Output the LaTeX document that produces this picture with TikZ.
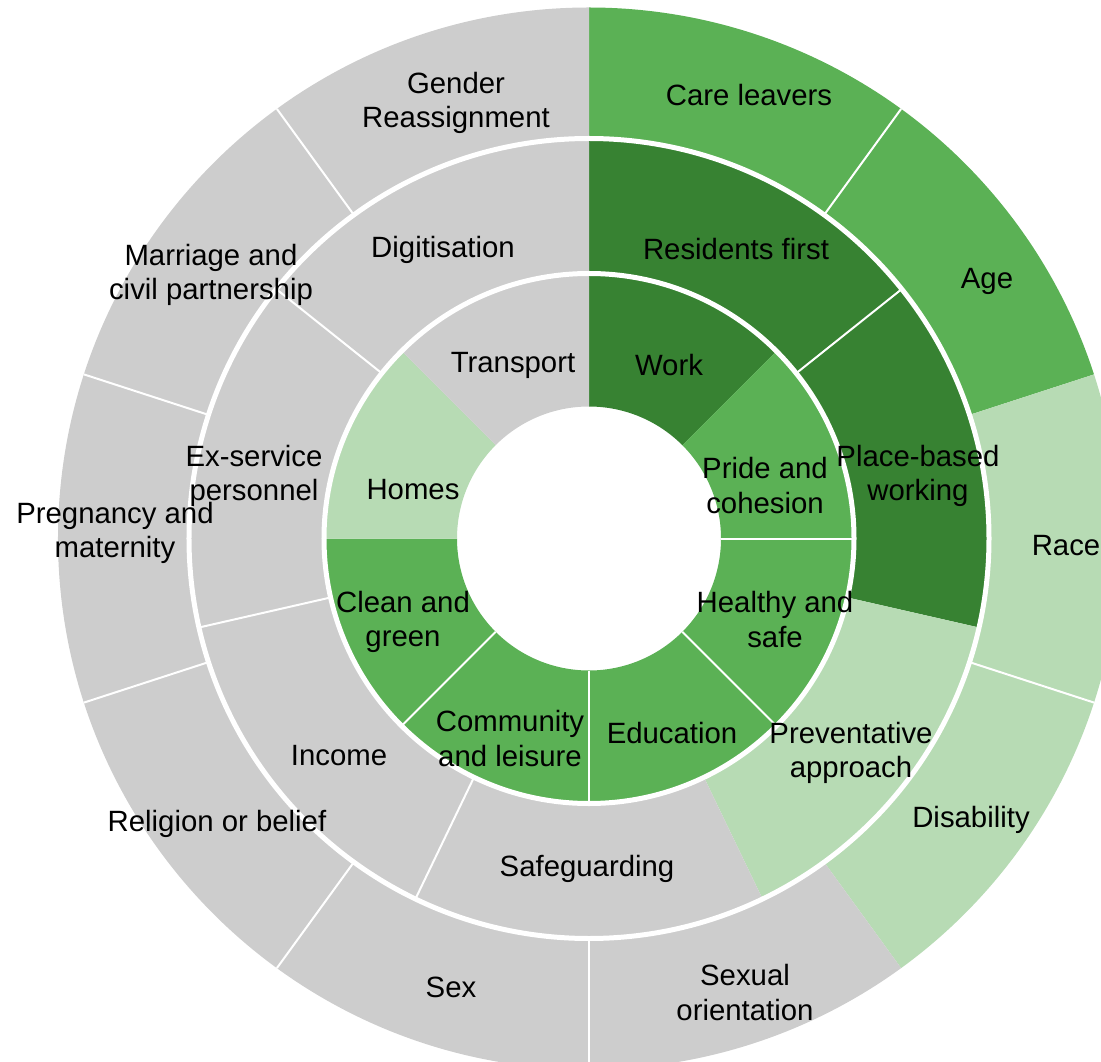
\documentclass[tikz,border=0pt]{standalone}
\usepackage{fontspec}
\setmainfont{Liberation Sans}
\definecolor{segGrey}{HTML}{CDCDCD}
\definecolor{segLight}{HTML}{B7DBB4}
\definecolor{segMid}{HTML}{5BB155}
\definecolor{segDark}{HTML}{378232}
% annular sector: colour, inner r, outer r, start angle, end angle
\newcommand{\ringpart}[5]{%
  \fill[#1] (#4:#2) arc[start angle=#4, end angle=#5, radius=#2]
    -- (#5:#3) arc[start angle=#5, end angle=#4, radius=#3] -- cycle;}

\begin{document}
\begin{tikzpicture}[x=0.02cm, y=0.02cm, every node/.style={align=center}]
    \tikzset{
      seglabel/.style={
        font=\fontsize{16.7}{19.4}\selectfont,
        inner sep=0pt,
        yshift=-0.05cm
      },
      seam/.style={white, line width=0.04cm},
      gap/.style={white, line width=0.1cm}
    }
    \useasboundingbox (-589,-522.5) rectangle (512,538.5);
    \clip (-589,-522.5) rectangle (512,538.5);

    % inner ring
    \foreach \col/\a/\b in {segDark/90/45, segMid/45/0, segMid/0/-45, segMid/-45/-90,
                            segMid/-90/-135, segMid/-135/-180, segLight/180/135, segGrey/135/90}
      {\ringpart{\col}{132}{265}{\a}{\b}}
    % middle ring
    \foreach \col [count=\i from 0, evaluate=\i as \a using 90-\i*360/7,
                   evaluate=\i as \b using 90-(\i+1)*360/7]
        in {segDark, segDark, segLight, segGrey, segGrey, segGrey, segGrey}
      {\ringpart{\col}{265}{400}{\a}{\b}}
    % outer ring
    \foreach \col/\a/\b in {segMid/90/54, segMid/54/18, segLight/18/-18, segLight/-18/-54,
                            segGrey/-54/-90, segGrey/-90/-270}
      {\ringpart{\col}{400}{531}{\a}{\b}}

    % seams between segments of the same colour
    \foreach \a in {0, -45, -90, -135}
      \draw[seam] (\a:132) -- (\a:265);
    \foreach \i [evaluate=\i as \a using 90-\i*360/7] in {1, 4, 5, 6}
      \draw[seam] (\a:265) -- (\a:400);
    \foreach \a in {54, -18, -90, -126, -162, 162, 126}
      \draw[seam] (\a:400) -- (\a:531);
    \draw[gap] (0,0) circle[radius=265];
    \draw[gap] (0,0) circle[radius=400];

    % inner ring labels
    \node[seglabel] (work) at (80,175.5) {Work};
    \node[seglabel] (pride) at (176,55.5) {Pride and\\cohesion};
    \node[seglabel] (healthy) at (186,-78.5) {Healthy and\\safe};
    \node[seglabel] (education) at (83,-192.5) {Education};
    \node[seglabel] (community) at (-79,-197.5) {Community\\and leisure};
    \node[seglabel] (clean) at (-186,-80.5) {Clean and\\green};
    \node[seglabel] (homes) at (-176,51.5) {Homes};
    \node[seglabel] (transport) at (-76,175.5) {Transport};

    % middle ring labels
    \node[seglabel] (residents) at (147,291.5) {Residents first};
    \node[seglabel] (place) at (329,65.5) {Place-based\\working};
    \node[seglabel] (prevent) at (262,-211.5) {Preventative\\approach};
    \node[seglabel] (safeguard) at (-2,-327.5) {Safeguarding};
    \node[seglabel] (income) at (-250,-214.5) {Income};
    \node[seglabel] (exservice) at (-335,65.5) {Ex-service\\personnel};
    \node[seglabel] (digital) at (-146,291.5) {Digitisation};

    % outer ring labels
    \node[seglabel] (care) at (160,445.5) {Care leavers};
    \node[seglabel] (age) at (398,259.5) {Age};
    \node[seglabel] (race) at (477,-4.5) {Race};
    \node[seglabel] (disability) at (382,-278.5) {Disability};
    \node[seglabel] (sexorient) at (156,-451.5) {Sexual\\orientation};
    \node[seglabel] (sex) at (-138,-446.5) {Sex};
    \node[seglabel] (religion) at (-372,-282.5) {Religion or belief};
    \node[seglabel] (pregnancy) at (-474,8.5) {Pregnancy and\\maternity};
    \node[seglabel] (marriage) at (-378,266.5) {Marriage and\\civil partnership};
    \node[seglabel] (gender) at (-133,438.5) {Gender\\Reassignment};
  \end{tikzpicture}
\end{document}
